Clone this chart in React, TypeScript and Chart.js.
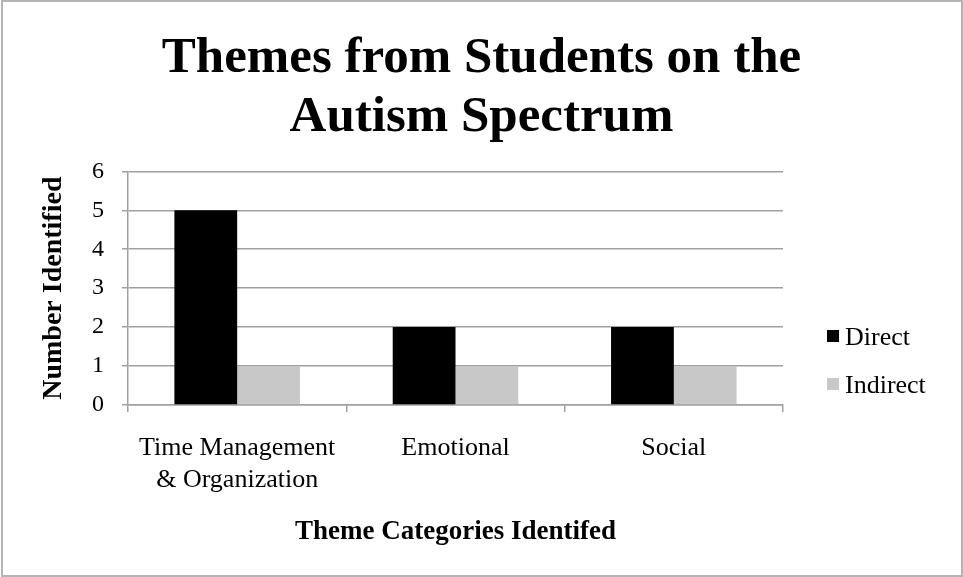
import React, { useEffect, useRef } from "react";
import { Chart, registerables } from "chart.js";

Chart.register(...registerables);

const categories: (string | string[])[] = [
  ["Time Management", "& Organization"],
  "Emotional",
  "Social",
];
const directValues = [5, 2, 2];
const indirectValues = [1, 1, 1];
const yTicks = [0, 1, 2, 3, 4, 5, 6];
const seriesNames = ["Direct", "Indirect"];
const titleLines = ["Themes from Students on the", "Autism Spectrum"];
const xTitle = "Theme Categories Identifed";
const yTitle = "Number Identified";

const FONT = "'Liberation Serif', 'DejaVu Serif', serif";

const sideLegend = {
  id: "sideLegend",
  afterDraw(chart: any) {
    const { ctx, chartArea } = chart;
    ctx.save();
    ctx.font = `26px ${FONT}`;
    ctx.textBaseline = "middle";
    ctx.textAlign = "left";
    const offsets = [67, 19];
    chart.data.datasets.forEach((ds: any, i: number) => {
      const y = chartArea.bottom - offsets[i];
      const x = chartArea.right + 44;
      ctx.fillStyle = ds.backgroundColor;
      ctx.fillRect(x, y - 8, 12, 12);
      ctx.fillStyle = "#000";
      ctx.fillText(ds.label, x + 18, y);
    });
    ctx.restore();
  },
};

export default function App() {
  const ref = useRef<HTMLCanvasElement>(null);
  useEffect(() => {
    document.body.style.margin = "0";
    const chart = new Chart(ref.current!, {
      type: "bar",
      data: {
        labels: categories,
        datasets: [
          {
            label: seriesNames[0],
            data: directValues,
            backgroundColor: "#000000",
            barPercentage: 1,
            categoryPercentage: 0.575,
          },
          {
            label: seriesNames[1],
            data: indirectValues,
            backgroundColor: "#c8c8c8",
            barPercentage: 1,
            categoryPercentage: 0.575,
          },
        ],
      },
      options: {
        animation: false,
        responsive: false,
        maintainAspectRatio: false,
        layout: { padding: { left: 20, right: 20, top: 0, bottom: 30 } },
        plugins: {
          legend: { display: false },
          tooltip: { enabled: false },
          title: {
            display: true,
            text: titleLines,
            color: "#000",
            font: { family: FONT, size: 51, weight: "bold", lineHeight: 1.16 },
            padding: { top: 29, bottom: 24 },
          },
        },
        scales: {
          x: {
            grid: {
              drawOnChartArea: false,
              drawTicks: true,
              tickLength: 7,
              offset: true,
              color: "#a0a0a0",
              lineWidth: 1.5,
            },
            border: { color: "#a0a0a0", width: 1.5 },
            ticks: {
              color: "#000",
              font: { family: FONT, size: 26, lineHeight: 1.23 },
              padding: 20,
              maxRotation: 0,
            },
            title: {
              display: true,
              text: xTitle,
              color: "#000",
              font: { family: FONT, size: 27, weight: "bold", lineHeight: 1.1 },
              padding: { top: 20, bottom: 0 },
            },
            afterFit(scale: any) {
              scale.height = 142;
            },
          },
          y: {
            min: 0,
            max: 6,
            afterBuildTicks(scale: any) {
              scale.ticks = yTicks.map((v) => ({ value: v }));
            },
            grid: {
              color: "#a0a0a0",
              lineWidth: 1.5,
              drawTicks: true,
              tickLength: 6,
            },
            border: { color: "#a0a0a0", width: 1.5 },
            ticks: {
              color: "#000",
              font: { family: FONT, size: 24 },
              padding: 18,
            },
            title: {
              display: true,
              text: yTitle,
              color: "#000",
              font: { family: FONT, size: 28, weight: "bold", lineHeight: 1.1 },
              padding: { top: 18, bottom: 0 },
            },
            afterFit(scale: any) {
              scale.width = 108;
            },
          },
          legendSpace: {
            type: "linear",
            position: "right",
            display: true,
            grid: { display: false },
            border: { display: false },
            ticks: { display: false },
            afterFit(scale: any) {
              scale.width = 160;
            },
          },
        },
      },
      plugins: [sideLegend],
    });
    return () => chart.destroy();
  }, []);
  return (
    <div style={{ position: "relative", width: 963, height: 577, background: "#fff" }}>
      <canvas ref={ref} width={963} height={577} style={{ position: "absolute", left: 0, top: 0, width: 963, height: 577 }} />
      <div
        style={{
          position: "absolute",
          left: 1,
          top: 0,
          width: 962,
          height: 577,
          border: "2px solid #b4b4b4",
          boxSizing: "border-box",
          pointerEvents: "none",
        }}
      />
    </div>
  );
}
